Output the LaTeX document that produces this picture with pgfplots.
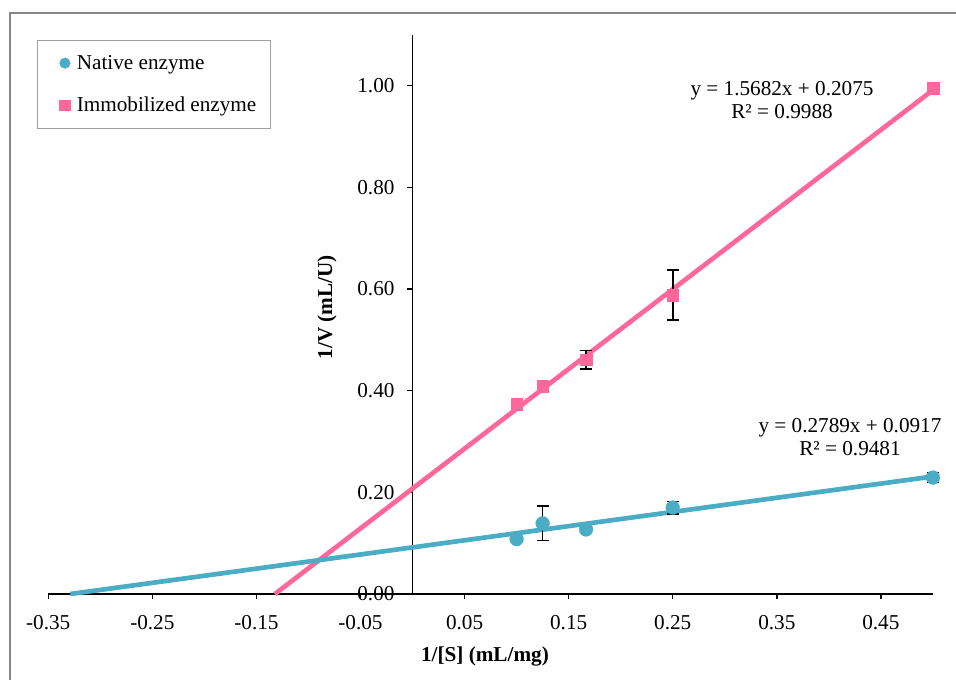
\documentclass[border=0pt]{standalone}
\usepackage{pgfplots}
\pgfplotsset{compat=1.18}
\usepackage{fontspec}
\setmainfont{Liberation Serif}
\definecolor{native}{HTML}{4BACC6}
\definecolor{immob}{HTML}{FF6699}
\definecolor{framegray}{HTML}{868686}
\definecolor{leggray}{HTML}{A0A0A0}
\newcommand{\fs}{\fontsize{15.9pt}{17.25pt}\selectfont}
\begin{document}
\begin{tikzpicture}
\useasboundingbox (0,0) rectangle (717pt,509.25pt);
\draw[line width=1.1pt, framegray] (7.5pt,-3pt) -- (7.5pt,499.5pt) -- (722pt,499.5pt);
\begin{axis}[
  at={(36.2pt,63.75pt)}, anchor=south west,
  scale only axis, width=663.5pt, height=419.3pt,
  xmin=-0.35, xmax=0.5, ymin=0, ymax=1.1,
  axis x line*=bottom, axis y line*=center,
  axis line style={line width=1.1pt, black},
  tick align=outside, major tick length=4pt,
  tick style={line width=1.1pt, black},
  xtick={-0.35,-0.25,-0.15,-0.05,0.05,0.15,0.25,0.35,0.45},
  xticklabels={-0.35,-0.25,-0.15,-0.05,0.05,0.15,0.25,0.35,0.45},
  ytick={0,0.2,0.4,0.6,0.8,1.0},
  yticklabels={0.00,0.20,0.40,0.60,0.80,1.00},
  ticklabel style={font=\fs},
  xticklabel style={yshift=-8.5pt},
  yticklabel style={xshift=-6pt},
  hide obscured x ticks=false, hide obscured y ticks=false,
  clip=false,
  legend style={at={(axis description cs:-0.0124,0.991)}, anchor=north west,
    draw=leggray, line width=0.75pt, font=\fs,
    inner xsep=9.5pt, inner ysep=10pt, row sep=17.25pt,
    nodes={inner sep=1pt}},
  legend cell align=left,
  legend image code/.code={\path (-10.5pt,0pt) (7.5pt,0pt); \draw[#1,mark size=4pt] plot coordinates {(0pt,0pt)};},
]
\addplot[immob, line width=3.5pt, forget plot] coordinates {(-0.1323,0) (0.5,0.9916)};
\addplot[native, line width=3.5pt, forget plot] coordinates {(-0.3288,0) (0.5,0.2312)};
\addplot[native, only marks, mark=*, mark size=5.2pt, mark options={draw=native, fill=native, line width=0.2pt},
  error bars/.cd, y dir=both, y explicit,
  error bar style={line width=1.2pt, black},
  error mark options={rotate=90, mark size=4.4pt, line width=1.2pt, black}]
  table[x=x, y=y, y error=e] {
x y e
0.1 0.108 0
0.125 0.139 0.034
0.1667 0.127 0
0.25 0.170 0.012
0.5 0.229 0.010
};
\addlegendentry{Native enzyme}
\addplot[immob, only marks, mark=square*, mark size=4.4pt, mark options={draw=immob, fill=immob, line width=0.2pt},
  error bars/.cd, y dir=both, y explicit,
  error bar style={line width=1.2pt, black},
  error mark options={rotate=90, mark size=4.4pt, line width=1.2pt, black}]
  table[x=x, y=y, y error=e] {
x y e
0.1 0.374 0.006
0.125 0.409 0.011
0.1667 0.461 0.018
0.25 0.588 0.049
0.5 0.996 0.005
};
\addlegendentry{Immobilized enzyme}
\node[font=\fs, align=center] at (axis cs:0.355,0.971) {y = 1.5682x + 0.2075\\R² = 0.9988};
\node[font=\fs, align=center] at (axis cs:0.4203,0.3079) {y = 0.2789x + 0.0917\\R² = 0.9481};
\node[font=\fs\bfseries, rotate=90] at (axis cs:-0.0822,0.5646) {1/V (mL/U)};
\node[font=\fs\bfseries] at (axis cs:0.0696,-0.122) {1/[S] (mL/mg)};
\end{axis}
\end{tikzpicture}
\end{document}
